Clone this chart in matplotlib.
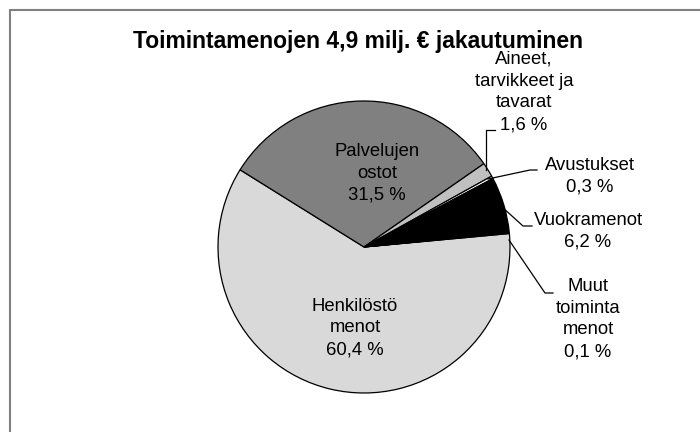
import matplotlib
matplotlib.use("Agg")
import matplotlib.pyplot as plt

title = "Toimintamenojen 4,9 milj. € jakautuminen"
categories = ["Henkilöstö\nmenot", "Palvelujen\nostot", "Aineet,\ntarvikkeet ja\ntavarat",
              "Avustukset", "Vuokramenot", "Muut\ntoiminta\nmenot"]
values = [60.4, 31.5, 1.6, 0.3, 6.2, 0.1]
colors = ["#d9d9d9", "#808080", "#c0c0c0", "#ffffff", "#000000", "#969696"]

W, H = 700, 432
fig = plt.figure(figsize=(7, 4.32), dpi=100)
ax = fig.add_axes([0, 0, 1, 1])
ax.set_xlim(0, W)
ax.set_ylim(0, H)
ax.axis("off")

def Y(y):
    return H - y

FONT = "Liberation Sans"

# frame (only top & left visible)
ax.plot([10, 10, W + 5], [Y(H + 5), Y(9.5), Y(9.5)], color="#808080", lw=1.5,
        solid_joinstyle="miter")

ax.pie(values, colors=colors, center=(364, Y(247)), radius=146,
       startangle=5.3, counterclock=False,
       wedgeprops=dict(edgecolor="black", linewidth=0.9))
ax.set_xlim(0, W)
ax.set_ylim(0, H)
ax.set_aspect("equal")

def lab(i):
    return f"{categories[i]}\n{values[i]:.1f} %".replace(".", ",")

fs = 13.3
ls = 1.37
ax.text(W / 2 + 8, Y(48), title, ha="center", va="baseline", fontsize=16.5,
        fontweight="bold", family=FONT)
ax.text(377, Y(173), lab(1), ha="center", va="center", fontsize=fs,
        family=FONT, linespacing=ls)
ax.text(355, Y(328), lab(0), ha="center", va="center", fontsize=fs,
        family=FONT, linespacing=ls)
ax.text(524, Y(92), lab(2), ha="center", va="center", fontsize=fs,
        family=FONT, linespacing=ls)
ax.text(590, Y(176), lab(3), ha="center", va="center", fontsize=fs,
        family=FONT, linespacing=ls)
ax.text(588, Y(231), lab(4), ha="center", va="center", fontsize=fs,
        family=FONT, linespacing=ls)
ax.text(588, Y(319), lab(5), ha="center", va="center", fontsize=fs,
        family=FONT, linespacing=ls)

# leader lines
lk = dict(color="black", lw=0.9)
ax.plot([486, 486, 495], [Y(170), Y(130), Y(130)], **lk)
ax.plot([488, 530, 537], [Y(179), Y(170), Y(170)], **lk)
ax.plot([502, 523, 532], [Y(207), Y(226), Y(226)], **lk)
ax.plot([509, 545, 553], [Y(240), Y(293), Y(293)], **lk)

fig.savefig("out.png", dpi=100, facecolor="white")
